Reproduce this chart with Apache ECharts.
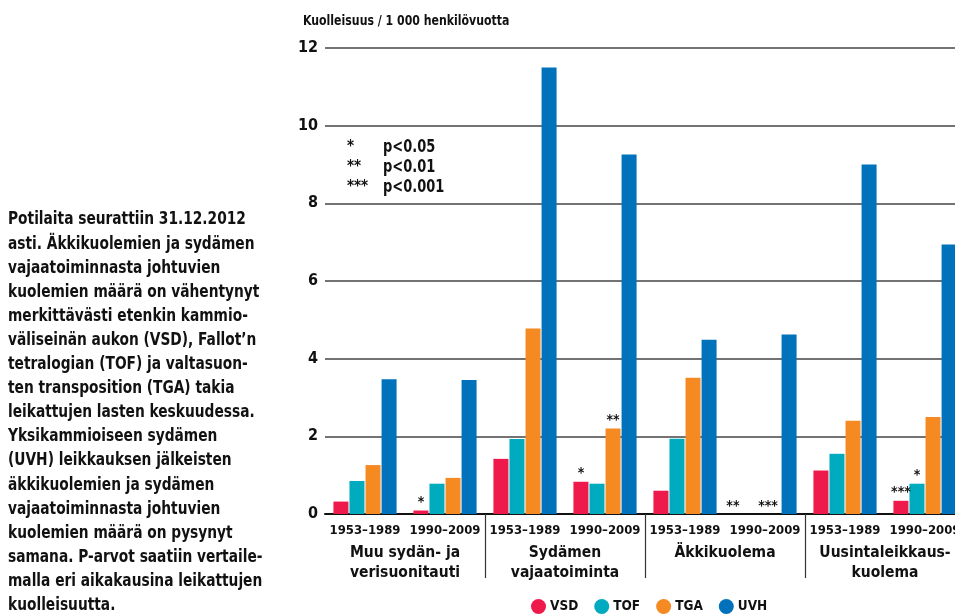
<!DOCTYPE html>
<html>
<head>
<meta charset="utf-8">
<script src="https://cdn.jsdelivr.net/npm/echarts@6/dist/echarts.min.js"></script>
<style>
html,body{margin:0;padding:0;background:#fff;overflow:hidden;width:955px;height:615px;}
#c{width:975px;height:615px;}
</style>
</head>
<body>
<div id="c"></div>
<script>
// ---- data ----
const periods = ['1953–1989', '1990–2009', '1953–1989', '1990–2009', '1953–1989', '1990–2009', '1953–1989', '1990–2009'];
const groups = ['Muu sydän- ja\nverisuonitauti', 'Sydämen\nvajaatoiminta', 'Äkkikuolema', 'Uusintaleikkaus-\nkuolema'];
const seriesNames = ['VSD', 'TOF', 'TGA', 'UVH'];
const vsd = [0.32, 0.09, 1.42, 0.83, 0.60, 0, 1.12, 0.34];
const tof = [0.85, 0.78, 1.93, 0.78, 1.94, 0, 1.55, 0.78];
const tga = [1.26, 0.93, 4.78, 2.20, 3.51, 0, 2.40, 2.50];
const uvh = [3.47, 3.45, 11.50, 9.26, 4.49, 4.62, 9.00, 6.94];
const sigVSD = ['', '*', '', '*', '', '**', '', '***'];
const sigTOF = ['', '', '', '', '', '', '', '*'];
const sigTGA = ['', '', '', '**', '', '***', '', ''];
const sigUVH = ['', '', '', '', '', '', '', ''];
const yTicks = [0, 2, 4, 6, 8, 10, 12];
const pLegendStars = ['*', '**', '***'];
const pLegendText = ['p<0.05', 'p<0.01', 'p<0.001'];
const titleText = 'Kuolleisuus / 1 000 henkilövuotta';
const noteText = 'Potilaita seurattiin 31.12.2012\nasti. Äkkikuolemien ja sydämen\nvajaatoiminnasta johtuvien\nkuolemien määrä on vähentynyt\nmerkittävästi etenkin kammio-\nväliseinän aukon (VSD), Fallot’n\ntetralogian (TOF) ja valtasuon-\nten transposition (TGA) takia\nleikattujen lasten keskuudessa.\nYksikammioiseen sydämen\n(UVH) leikkauksen jälkeisten\näkkikuolemien ja sydämen\nvajaatoiminnasta johtuvien\nkuolemien määrä on pysynyt\nsamana. P-arvot saatiin vertaile-\nmalla eri aikakausina leikattujen\nkuolleisuutta.';

// ---- styles ----
const FONT = '"DejaVu Sans Condensed", "DejaVu Sans", sans-serif';
const colors = ['#EE1A4B', '#00AABF', '#F58A22', '#0072BC'];
const sigOffsets = {'TGA-5': [-5, 0], 'VSD-5': [-8, 0]};

function buildData(vals, sigs, name) {
  return vals.map((v, i) => {
    const s = sigs[i];
    if (!s) return v;
    return {
      value: v,
      label: {
        show: true,
        position: 'top',
        distance: 1,
        formatter: s,
        offset: sigOffsets[name + '-' + i] || [0, 0],
        color: '#111',
        fontFamily: FONT,
        fontWeight: 'bold',
        fontSize: 14,
        lineHeight: 14
      }
    };
  });
}

const allVals = [vsd, tof, tga, uvh];
const allSigs = [sigVSD, sigTOF, sigTGA, sigUVH];

const chart = echarts.init(document.getElementById('c'), null, {renderer: 'canvas'});

const graphics = [
  {type: 'text', left: 303, top: 14, scaleX: 0.87, style: {text: titleText, font: 'bold 14px ' + FONT, fill: '#111'}},
  {type: 'text', left: 8, top: 208, scaleX: 0.9, style: {text: noteText, font: 'bold 17px ' + FONT, fill: '#111', lineHeight: 24.1}}
];
pLegendStars.forEach((s, i) => {
  graphics.push({type: 'text', left: 347, top: 140 + i * 20, style: {text: s, font: 'bold 15px ' + FONT, fill: '#111'}});
  graphics.push({type: 'text', left: 383, top: 139 + i * 20, scaleX: 0.85, style: {text: pLegendText[i], font: 'bold 17px ' + FONT, fill: '#111'}});
});

chart.setOption({
  animation: false,
  backgroundColor: '#fff',
  color: colors,
  textStyle: {fontFamily: FONT},
  graphic: graphics,
  legend: {
    data: seriesNames,
    top: 594,
    left: 526,
    icon: 'circle',
    itemWidth: 15,
    itemHeight: 15,
    itemGap: 16,
    textStyle: {fontFamily: FONT, fontWeight: 'bold', fontSize: 13.5, color: '#111', padding: [0, 0, 0, -1]}
  },
  grid: {left: 325, top: 48, width: 640, height: 466, containLabel: false},
  xAxis: [
    {
      type: 'category',
      data: periods,
      position: 'bottom',
      axisLine: {show: true, lineStyle: {color: '#111', width: 2}},
      axisTick: {show: false},
      axisLabel: {interval: 0, margin: 10, color: '#111', fontFamily: FONT, fontWeight: 'bold', fontSize: 13}
    },
    {
      type: 'category',
      data: groups,
      position: 'bottom',
      axisLine: {show: false},
      axisTick: {show: true, length: 64, interval: function (i) { return i > 0; }, lineStyle: {color: '#333', width: 1.2}},
      axisLabel: {interval: 0, margin: 29, color: '#111', fontFamily: FONT, fontWeight: 'bold', fontSize: 15.5, lineHeight: 20}
    }
  ],
  yAxis: {
    type: 'value',
    min: 0,
    max: 12,
    interval: 2,
    axisLine: {show: false},
    axisTick: {show: false},
    splitLine: {show: true, lineStyle: {color: '#444', width: 1.6}},
    axisLabel: {margin: 7, color: '#111', fontFamily: FONT, fontWeight: 'bold', fontSize: 16,
      formatter: v => yTicks.indexOf(v) >= 0 ? String(v) : ''}
  },
  series: seriesNames.map((n, k) => ({
    name: n,
    type: 'bar',
    xAxisIndex: 0,
    barWidth: 15,
    barGap: '7%',
    data: buildData(allVals[k], allSigs[k], n),
    itemStyle: {color: colors[k]}
  }))
});
</script>
</body>
</html>
